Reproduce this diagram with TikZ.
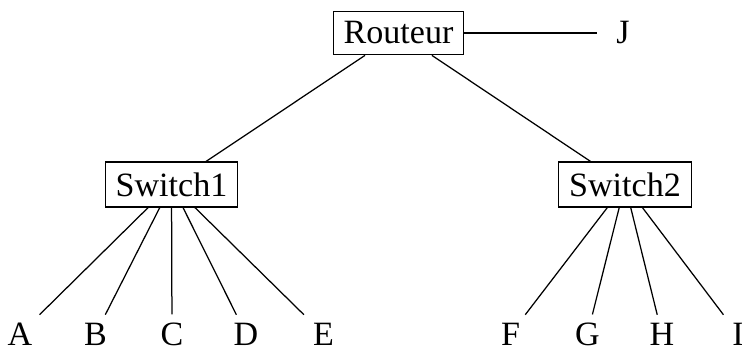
\documentclass[tikz,border=0pt]{standalone}
\usepackage{fontspec}
\setmainfont{Liberation Serif}
\tikzset{
  box/.style={draw, inner sep=3.33pt},
  leaf/.style={inner xsep=3.33pt, inner ysep=2.4pt},
  link/.style={draw, line width=0.4pt}
}
\begin{document}
\begin{tikzpicture}[x=0.32pt,y=-0.32pt,font=\fontsize{10.9}{13}\selectfont]
\useasboundingbox (0,0) rectangle (742,347);
\node[box] (R) at (398.5,33) {Routeur};
\node[leaf, inner xsep=6pt] (J) at (623,33) {J};
\node[box] (S1) at (171.5,184.5) {Switch1};
\node[box] (S2) at (625,184.5) {Switch2};
\node[leaf] (A) at (20,334) {A};
\node[leaf] (B) at (95.5,334) {B};
\node[leaf] (C) at (172,334) {C};
\node[leaf] (D) at (246,334) {D};
\node[leaf] (E) at (323.5,334) {E};
\node[leaf] (F) at (510.5,334) {F};
\node[leaf] (G) at (587.5,334) {G};
\node[leaf] (H) at (662,334) {H};
\node[leaf] (I) at (738,334) {I};
\draw[link] (R) -- (J);
\draw[link] (R) -- (S1);
\draw[link] (R) -- (S2);
\foreach \n in {A,B,C,D,E} \draw[link] (S1) -- (\n);
\foreach \n in {F,G,H,I} \draw[link] (S2) -- (\n);
\end{tikzpicture}
\end{document}
